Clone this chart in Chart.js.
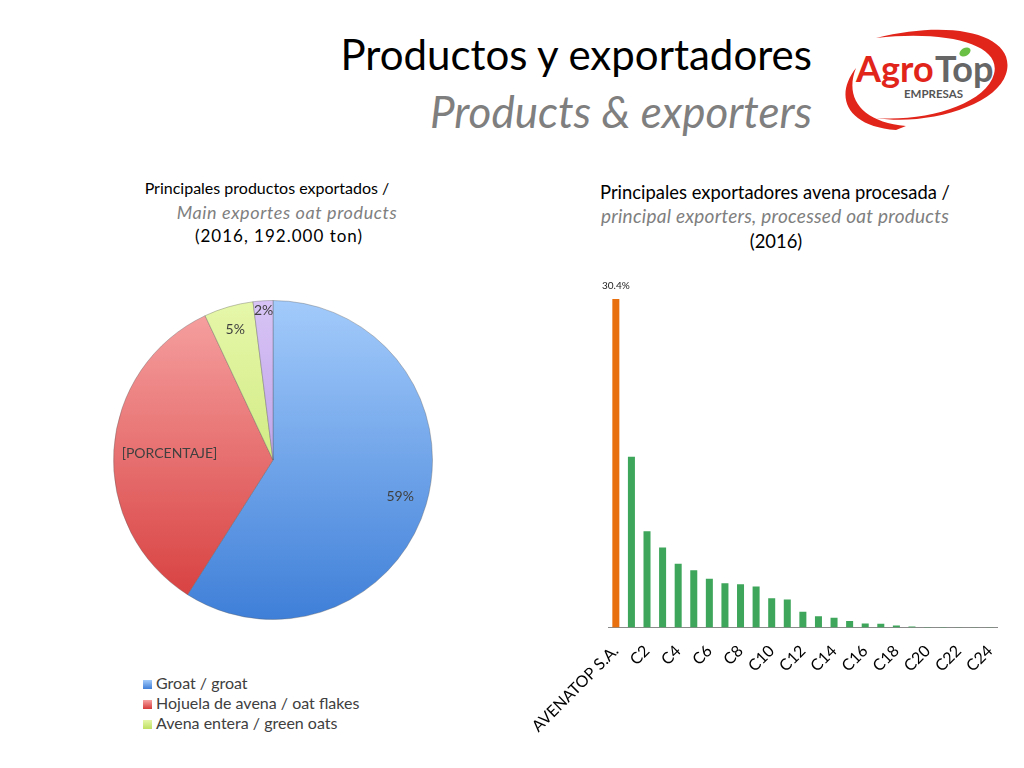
<!DOCTYPE html>
<html>
<head>
<meta charset="utf-8">
<script src="https://cdn.jsdelivr.net/npm/chart.js@4.4.0/dist/chart.umd.min.js"></script>
<style>
  body{margin:0;background:#fff;font-family:Lato,"Open Sans",sans-serif;}
  #page{position:relative;width:1024px;height:768px;overflow:hidden;}
  .abs{position:absolute;}
  .t1{right:212px;top:29px;font-size:42px;color:#000;white-space:nowrap;}
  .t2{right:212px;top:85px;font-size:44px;color:#7f7f7f;font-style:italic;white-space:nowrap;}
  .sub{text-align:center;line-height:24px;color:#000;white-space:nowrap;transform:translateX(-50%);}
  .sub.i{color:#7f7f7f;font-style:italic;}
  #legend{left:143px;top:673px;font-size:16px;line-height:20px;color:#404040;}
  #legend span.box{display:inline-block;width:9px;height:9px;margin-right:4px;vertical-align:0px;}
</style>
</head>
<body>
<div id="page">
  <div class="abs t1">Productos y exportadores</div>
  <div class="abs t2">Products &amp; exporters</div>

  <svg class="abs" style="left:836px;top:26px" width="180" height="118" viewBox="0 0 180 118">
    <path d="M40 12 C 120 -8, 182 10, 170 48 C 160 80, 90 100, 40 92 C 90 96, 150 78, 158 48 C 166 18, 110 4, 40 12 Z" fill="#e1251b"/>
    <path d="M60 104 C 10 100, -2 70, 20 42 C 8 72, 26 96, 70 100 Z" fill="#e1251b"/>
    <text x="20" y="56" font-family="Lato,sans-serif" font-size="36" fill="#e1251b" font-weight="bold">Agro</text>
    <text x="99" y="56" font-family="Lato,sans-serif" font-size="36" fill="#666" font-weight="bold">Top</text>
    <ellipse cx="129" cy="26" rx="6" ry="4" fill="#6abf45" transform="rotate(-30 129 26)"/>
    <text x="68" y="72" font-family="Lato,sans-serif" font-size="11.5" fill="#555" font-weight="bold">EMPRESAS</text>
  </svg>

  <div class="abs sub" style="left:267px;top:176px;font-size:16px">Principales productos exportados /</div>
  <div class="abs sub i" style="left:287px;top:200px;font-size:18px;letter-spacing:0.6px">Main exportes oat products</div>
  <div class="abs sub" style="left:279px;top:224px;font-size:17px;letter-spacing:1px">(2016, 192.000 ton)</div>

  <div class="abs sub" style="left:775px;top:180px;font-size:18.4px">Principales exportadores avena procesada /</div>
  <div class="abs sub i" style="left:775px;top:204px;font-size:19px;letter-spacing:0.25px">principal exporters, processed oat products</div>
  <div class="abs sub" style="left:776px;top:229px;font-size:18.4px">(2016)</div>

  <div class="abs" style="left:103px;top:290px;width:340px;height:340px"><canvas id="pie"></canvas></div>
  <div id="legend" class="abs"></div>

  <div class="abs" style="left:521px;top:270px;width:495px;height:480px"><canvas id="bar"></canvas></div>
</div>

<script>
// Pie data
const pieLabels = ['Groat / groat', 'Hojuela de avena / oat flakes', 'Avena entera / green oats', 'Otros / others'];
const pieValues = [59, 34, 5, 2];
const pieText = ['59%', '[PORCENTAJE]', '5%', '2%'];
const pieTop = ['#a3cbfb', '#f7a3a3', '#e6f7aa', '#d8c4f5'];
const pieBottom = ['#3f7fd8', '#d63a3a', '#bfe060', '#a886de'];
const legendCount = 3;

// Bar data
const barLabels = ['AVENATOP S.A.'];
for (let i = 1; i <= 24; i++) barLabels.push('C' + i);
const barValues = [30.4, 15.8, 8.9, 7.4, 5.9, 5.3, 4.5, 4.1, 4.0, 3.8, 2.7, 2.6, 1.45, 1.05, 0.9, 0.6, 0.37, 0.34, 0.19, 0.1, 0.05, 0.04, 0.03, 0.03, 0.02];
const barColors = barValues.map((v, i) => i === 0 ? '#e8700f' : '#3ea65b');

Chart.defaults.font.family = 'Lato, "Open Sans", sans-serif';

function sliceGradient(ctx, idx){
  const area = ctx.chart.chartArea;
  if(!area) return pieTop[idx];
  const g = ctx.chart.ctx.createLinearGradient(0, area.top, 0, area.bottom);
  g.addColorStop(0, pieTop[idx]);
  g.addColorStop(1, pieBottom[idx]);
  return g;
}

// Labels on the pie slices
const pieLabelPlugin = {
  id: 'pieLabels',
  afterDatasetsDraw(chart){
    const c = chart.ctx;
    const meta = chart.getDatasetMeta(0);
    c.save();
    c.font = '14px Lato, sans-serif';
    c.fillStyle = '#404040';
    c.textAlign = 'center';
    c.textBaseline = 'middle';
    const frac = [0.83, 0.65, 0.85, 0.94];
    meta.data.forEach((arc, i) => {
      const mid = (arc.startAngle + arc.endAngle) / 2;
      const r = arc.outerRadius * frac[i];
      c.fillText(pieText[i], arc.x + Math.cos(mid) * r, arc.y + Math.sin(mid) * r);
    });
    c.restore();
  }
};

new Chart(document.getElementById('pie'), {
  type: 'pie',
  data: {
    labels: pieLabels,
    datasets: [{
      data: pieValues,
      backgroundColor: ctx => sliceGradient(ctx, ctx.dataIndex),
      borderColor: 'rgba(90,90,90,0.35)',
      borderWidth: 1
    }]
  },
  options: {
    responsive: true,
    maintainAspectRatio: false,
    animation: false,
    layout: {padding: 10},
    plugins: {legend: {display: false}, tooltip: {enabled: false}}
  },
  plugins: [pieLabelPlugin]
});

// HTML legend
const legendEl = document.getElementById('legend');
pieLabels.slice(0, legendCount).forEach((l, i) => {
  const row = document.createElement('div');
  row.innerHTML = '<span class="box" style="background:linear-gradient(' + pieTop[i] + ',' + pieBottom[i] + ')"></span>' + l;
  legendEl.appendChild(row);
});

// value label on first bar
const barLabelPlugin = {
  id: 'barLabel',
  afterDatasetsDraw(chart){
    const c = chart.ctx;
    const bar = chart.getDatasetMeta(0).data[0];
    c.save();
    c.font = '10px Lato, sans-serif';
    c.fillStyle = '#222';
    c.textAlign = 'center';
    c.textBaseline = 'bottom';
    c.fillText(barValues[0].toFixed(1) + '%', bar.x, bar.y - 8);
    c.restore();
  }
};

new Chart(document.getElementById('bar'), {
  type: 'bar',
  data: {
    labels: barLabels,
    datasets: [{
      data: barValues,
      backgroundColor: barColors,
      barPercentage: 0.45,
      categoryPercentage: 1
    }]
  },
  options: {
    responsive: true,
    maintainAspectRatio: false,
    animation: false,
    layout: {padding: {top: 29, right: 13}},
    plugins: {legend: {display: false}, tooltip: {enabled: false}},
    scales: {
      x: {
        grid: {display: false, drawTicks: false},
        border: {color: '#8a8a8a', width: 1},
        ticks: {
          autoSkip: false,
          maxRotation: 45,
          minRotation: 45,
          padding: 14,
          color: '#000',
          font: {size: 16},
          callback: (v, i) => i % 2 === 0 ? barLabels[i] : ''
        }
      },
      y: {display: false, min: 0, max: 30.4}
    }
  },
  plugins: [barLabelPlugin]
});
</script>
</body>
</html>
